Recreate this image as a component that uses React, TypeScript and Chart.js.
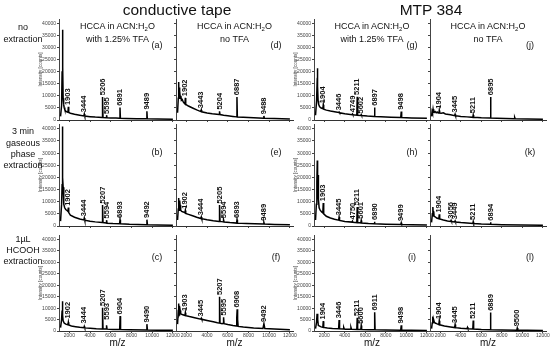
import React, { useEffect, useRef } from "react";
import { Chart, registerables } from "chart.js";
Chart.register(...registerables);

const FONT = "'Liberation Sans', Arial, Helvetica, sans-serif";

const xTicks = [2000, 4000, 6000, 8000, 10000, 12000];
const yTicks = [0, 5000, 10000, 15000, 20000, 25000, 30000, 35000, 40000];
const xRange = [1000, 12300];
const yRange = [0, 42000];

const sectionTitles = ["conductive tape", "MTP 384"];
const rowTitles = [["no", "extraction"], ["3 min", "gaseous", "phase", "extraction"], ["1µL", "HCOOH", "extraction"]];
const colHeaders = [["with 1.25% TFA"], ["no TFA"], ["with 1.25% TFA"], ["no TFA"]];

// [m/z, intensity]
const specA = [[1150,1500],[1250,6000],[1300,20000],[1340,37500],[1370,22000],[1400,9000],[1450,6500],[1500,5200],[1560,4300],[1650,3700],[1800,3300],[1865,3200],[1903,5500],[1940,3100],[2100,2800],[2500,2400],[3000,2000],[3400,1700],[3444,2500],[3490,1650],[4000,1400],[4500,1200],[5160,1000],[5206,9600],[5250,1000],[5550,950],[5595,2000],[5640,920],[6000,850],[6500,780],[6850,740],[6891,5200],[6930,730],[7500,650],[8500,560],[9440,500],[9489,3600],[9530,490],[10500,420],[12000,350]];
const specD = [[1150,3000],[1220,9000],[1260,15800],[1290,9000],[1320,13500],[1350,9500],[1380,12000],[1420,9000],[1470,10000],[1520,8200],[1600,8500],[1700,7500],[1800,7000],[1865,6700],[1902,9200],[1940,6500],[2200,5800],[2600,5000],[3000,4200],[3400,3500],[3443,4200],[3480,3400],[4000,2900],[4500,2600],[5160,2300],[5204,3600],[5250,2250],[5600,2000],[6000,1800],[6500,1500],[6850,1300],[6887,9600],[6925,1250],[7500,1100],[8500,900],[9440,750],[9488,1700],[9530,740],[10500,600],[12000,450]];
const specG = [[1150,2000],[1250,8000],[1300,15000],[1330,21500],[1360,14000],[1400,8000],[1450,6500],[1550,5500],[1700,5000],[1860,4700],[1904,6300],[1945,4500],[2200,4100],[2600,3700],[3000,3400],[3400,3100],[3446,3300],[3490,3000],[4000,2600],[4700,2200],[4749,2500],[4790,2150],[5170,2000],[5211,9700],[5250,2000],[5560,1900],[5602,2200],[5640,1850],[6200,1650],[6860,1500],[6897,5200],[6935,1480],[7500,1350],[8500,1150],[9450,1000],[9498,3500],[9540,990],[10500,850],[12000,700]];
const specJ = [[1150,1500],[1200,3500],[1250,2800],[1300,4500],[1340,3000],[1380,3800],[1420,3200],[1500,3500],[1600,3000],[1700,3300],[1800,2900],[1870,3000],[1904,4000],[1940,2900],[2100,2800],[2300,3000],[2500,2500],[3000,2200],[3400,1800],[3445,2400],[3490,1800],[4000,1500],[4600,1300],[5170,1100],[5211,2100],[5250,1100],[6000,900],[6850,800],[6895,9600],[6940,800],[7500,700],[9200,550],[9250,1100],[9300,550],[10500,450],[12000,350]];
const specB = [[1150,2000],[1250,9000],[1300,17000],[1330,41000],[1360,20000],[1400,16000],[1440,15500],[1480,9000],[1550,7500],[1650,6800],[1800,6300],[1865,6000],[1902,7600],[1940,5500],[2100,4500],[2500,3600],[3000,2900],[3400,2500],[3444,3300],[3490,2400],[4000,2000],[4500,1700],[5160,1400],[5207,8600],[5250,1400],[5550,1200],[5594,2400],[5640,1150],[6200,1000],[6850,900],[6893,2600],[6935,880],[7800,700],[9440,550],[9492,2600],[9540,540],[10500,450],[12000,350]];
const specE = [[1150,2500],[1220,7000],[1260,11500],[1290,6500],[1320,10500],[1360,7000],[1400,8500],[1450,6500],[1550,6000],[1700,5800],[1860,5400],[1902,6400],[1940,5200],[2200,4800],[2600,4200],[3000,3600],[3400,3100],[3444,3700],[3490,3000],[4000,2600],[4600,2200],[5160,1900],[5205,8600],[5250,1900],[5550,1700],[5594,2500],[5640,1650],[6200,1400],[6850,1200],[6893,2600],[6935,1180],[7800,1000],[9440,800],[9489,1500],[9540,780],[10500,650],[12000,500]];
const specH = [[1150,2500],[1230,9000],[1280,18000],[1320,27000],[1350,16000],[1390,21000],[1430,11000],[1500,7500],[1600,6500],[1750,5800],[1860,5400],[1903,9500],[1945,5000],[2200,4000],[2600,3300],[3000,2800],[3400,2400],[3445,3700],[3490,2300],[4000,1900],[4700,1600],[4750,2000],[4800,1550],[5170,1400],[5211,7800],[5250,1400],[5560,1300],[5601,2300],[5640,1250],[6300,1050],[6850,950],[6890,1800],[6930,930],[8000,750],[9450,600],[9499,1300],[9540,590],[10500,500],[12000,400]];
const specK = [[1150,1500],[1230,5000],[1280,7800],[1320,4200],[1360,6000],[1400,4000],[1500,3800],[1650,3300],[1860,3000],[1904,4800],[1945,2900],[2300,2500],[2700,2100],[3010,1900],[3056,2300],[3100,1850],[3400,1700],[3449,2100],[3490,1650],[4000,1400],[4600,1200],[5170,1000],[5211,1800],[5250,1000],[6000,800],[6850,700],[6894,1500],[6940,690],[8000,550],[10000,400],[12000,300]];
const specC = [[1150,1500],[1250,5000],[1300,9000],[1330,13000],[1360,7000],[1400,4500],[1500,3500],[1650,3000],[1860,2700],[1902,3800],[1940,2600],[2200,2200],[2600,1900],[3000,1600],[3400,1400],[3444,2000],[3490,1350],[4000,1200],[4600,1000],[5160,900],[5207,10200],[5250,900],[5550,850],[5593,2500],[5640,820],[6200,700],[6860,650],[6904,6500],[6945,640],[7800,550],[9440,450],[9490,3000],[9540,440],[10500,380],[12000,300]];
const specF = [[1150,3000],[1220,9000],[1260,12000],[1290,7000],[1320,11000],[1360,8000],[1400,9000],[1450,7500],[1600,7200],[1800,6900],[1865,6800],[1903,8000],[1940,6700],[2300,6300],[2800,5800],[3400,5200],[3445,5600],[3490,5100],[4000,4600],[4600,4000],[5000,3600],[5160,3500],[5207,15000],[5250,3400],[5450,3200],[5550,3400],[5595,6000],[5640,3200],[6000,2800],[6500,2400],[6820,2200],[6870,6000],[6908,9500],[6950,5000],[7000,2000],[7500,1700],[8500,1300],[9400,1100],[9492,3200],[9580,1050],[10500,850],[12000,600]];
const specI = [[1150,1000],[1250,4000],[1300,7500],[1340,3500],[1380,5000],[1420,2500],[1500,2200],[1700,1800],[1860,1600],[1904,4300],[1945,1550],[2300,1300],[2800,1100],[3400,1000],[3446,4800],[3490,950],[3850,900],[3900,1500],[3950,880],[4000,850],[4550,750],[4600,1500],[4650,730],[5170,700],[5211,5800],[5250,700],[5560,650],[5600,2400],[5640,640],[6300,550],[6870,500],[6911,8200],[6950,500],[8000,420],[9450,380],[9498,2500],[9540,370],[10500,320],[12000,250]];
const specL = [[1150,1000],[1220,3500],[1270,6300],[1310,3800],[1360,4800],[1420,3800],[1500,3500],[1700,3100],[1860,2800],[1904,4500],[1945,2700],[2400,2200],[3000,1800],[3400,1500],[3445,2800],[3490,1450],[4000,1200],[4600,1000],[4650,1600],[4700,980],[5170,850],[5211,4600],[5250,850],[6000,650],[6850,560],[6889,8100],[6930,550],[8000,450],[9450,380],[9500,1300],[9550,370],[10500,320],[12000,250]];

// [m/z, label, intensity at label foot]
const labA = [[1903,"1903",5800],[3444,"3444",2800],[5206,"5206",9900],[5595,"5595",2100],[6891,"6891",5500],[9489,"9489",3900]];
const labD = [[1902,"1902",9500],[3443,"3443",4500],[5204,"5204",3900],[6887,"6887",9900],[9488,"9488",2000]];
const labG = [[1904,"1904",6600],[3446,"3446",3600],[4749,"4749",2800],[5211,"5211",10000],[5602,"5602",2300],[6897,"6897",5500],[9498,"9498",3800]];
const labJ = [[1904,"1904",4300],[3445,"3445",2700],[5211,"5211",2400],[6895,"6895",9900]];
const labB = [[1902,"1902",7900],[3444,"3444",3600],[5207,"5207",8900],[5594,"5594",2700],[6893,"6893",2900],[9492,"9492",2900]];
const labE = [[1902,"1902",6700],[3444,"3444",4000],[5205,"5205",8900],[5594,"5594",2800],[6893,"6893",2900],[9489,"9489",1800]];
const labH = [[1903,"1903",9800],[3445,"3445",4000],[4750,"4750",2300],[5211,"5211",8100],[5601,"5601",2600],[6890,"6890",2100],[9499,"9499",1600]];
const labK = [[1904,"1904",5100],[3056,"3056",2600],[3449,"3449",2400],[5211,"5211",2100],[6894,"6894",1800]];
const labC = [[1902,"1902",5000],[3444,"3444",2800],[5207,"5207",10500],[5593,"5593",4500],[6904,"6904",6800],[9490,"9490",3300]];
const labF = [[1903,"1903",8300],[3445,"3445",5900],[5207,"5207",15300],[5595,"5595",6300],[6908,"6908",9800],[9492,"9492",3500]];
const labI = [[1904,"1904",4600],[3446,"3446",5100],[5211,"5211",6100],[5600,"5600",2700],[6911,"6911",8500],[9498,"9498",2800]];
const labL = [[1904,"1904",4800],[3445,"3445",3100],[5211,"5211",4900],[6889,"6889",8400],[9500,"9500",1600]];

const panelIds = ["a", "b", "c", "d", "e", "f", "g", "h", "i", "j", "k", "l"];
const panelSpectra = [specA, specB, specC, specD, specE, specF, specG, specH, specI, specJ, specK, specL];
const panelLabels = [labA, labB, labC, labD, labE, labF, labG, labH, labI, labJ, labK, labL];

// layout (pixels)
const COLS = [{ l: 59, r: 176 }, { l: 176, r: 293 }, { l: 314, r: 430 }, { l: 430, r: 546 }];
const ROWS = [{ t: 19, b: 120 }, { t: 124, b: 226 }, { t: 235, b: 331 }];
const LETTER_X = [157, 276, 412, 530];
const LETTER_Y = [45, 152, 257];
const PADL = 24, PADR = 7, PADT = 6;

function Panel({ idx }: { idx: number }) {
  const ref = useRef<HTMLCanvasElement>(null);
  const colI = Math.floor(idx / 3);
  const rowI = idx % 3;
  const col = COLS[colI];
  const row = ROWS[rowI];
  const isBottom = rowI === 2;
  const showY = colI === 0 || colI === 2;
  const padB = isBottom ? 349 - row.b : 4;
  const w = col.r - col.l + PADL + PADR;
  const h = row.b - row.t + PADT + padB;
  useEffect(() => {
    const labels = panelLabels[idx];
    const labelPlugin = {
      id: "peakLabels",
      afterDatasetsDraw(chart: any) {
        const { ctx } = chart;
        const xs = chart.scales.x, ys = chart.scales.y;
        ctx.save();
        ctx.font = `bold 7.5px ${FONT}`;
        ctx.fillStyle = "#111";
        ctx.textAlign = "left";
        ctx.textBaseline = "middle";
        for (const [mz, t, v] of labels as any[]) {
          const x = xs.getPixelForValue(mz);
          const y = ys.getPixelForValue(v) - 1;
          ctx.save();
          ctx.translate(x, y);
          ctx.rotate(-Math.PI / 2);
          ctx.fillText(t, 0, 0);
          ctx.restore();
        }
        ctx.restore();
      },
    };
    const chart = new Chart(ref.current as HTMLCanvasElement, {
      type: "line",
      data: {
        datasets: [{
          data: panelSpectra[idx].map(([x, y]) => ({ x, y })),
          borderColor: "#000",
          borderWidth: 1.5,
          pointRadius: 0,
          tension: 0,
          fill: false,
        }],
      },
      options: {
        responsive: false,
        animation: false,
        events: [],
        layout: { padding: { top: PADT, right: PADR, left: 0, bottom: 0 } },
        plugins: { legend: { display: false }, tooltip: { enabled: false } },
        scales: {
          x: {
            type: "linear",
            min: xRange[0],
            max: xRange[1],
            afterFit: (s: any) => { s.height = padB; },
            afterBuildTicks: (s: any) => { s.ticks = xTicks.map((v) => ({ value: v })); },
            ticks: { display: isBottom, font: { size: 5, family: FONT }, color: "#444", padding: 0, maxRotation: 0, autoSkip: false, callback: (v: any) => String(v) },
            grid: { drawOnChartArea: false, tickLength: 2, color: "#444" },
            border: { color: "#333", width: 1 },
            title: { display: isBottom, text: "m/z", font: { size: 10, family: FONT }, color: "#111", padding: 0 },
          },
          y: {
            type: "linear",
            min: yRange[0],
            max: yRange[1],
            afterFit: (s: any) => { s.width = PADL; },
            afterBuildTicks: (s: any) => { s.ticks = yTicks.map((v) => ({ value: v })); },
            ticks: { display: showY, font: { size: 5, family: FONT }, color: "#444", padding: 1, callback: (v: any) => String(v) },
            grid: { drawOnChartArea: false, tickLength: 2, color: "#444" },
            border: { color: "#444", width: 1 },
            title: { display: showY, text: "Intensity [counts]", font: { size: 4.5, family: FONT }, color: "#444", padding: { top: 3, bottom: 0 } },
          },
        },
      } as any,
      plugins: [labelPlugin],
    });
    return () => chart.destroy();
  }, []);
  return (
    <canvas
      ref={ref}
      width={w}
      height={h}
      style={{ position: "absolute", left: col.l - PADL, top: row.t - PADT, width: w, height: h }}
    />
  );
}

function Txt({ cx, cy, size, lh, children }: any) {
  return (
    <div style={{ position: "absolute", left: cx - 100, top: cy - lh / 2, width: 200, textAlign: "center", fontSize: size, lineHeight: lh + "px", whiteSpace: "nowrap", color: "#111", fontFamily: FONT }}>
      {children}
    </div>
  );
}

export default function App() {
  const headerCx = COLS.map((c) => (c.l + c.r) / 2);
  const rowCy = [[27, 39], [131, 143, 154, 165], [239, 250, 261]];
  return (
    <div style={{ position: "absolute", left: 0, top: 0, width: 550, height: 349, overflow: "hidden", background: "#fff", fontFamily: FONT }}>
      {panelIds.map((id, i) => <Panel key={id} idx={i} />)}
      <Txt cx={177} cy={10} size={15.5} lh={18}>{sectionTitles[0]}</Txt>
      <Txt cx={431} cy={10} size={15.5} lh={18}>{sectionTitles[1]}</Txt>
      {rowTitles.map((lines, r) => lines.map((t, k) => (
        <Txt key={r + "-" + k} cx={23} cy={rowCy[r][k]} size={9} lh={11}>{t}</Txt>
      )))}
      {colHeaders.map((hdr, c) => (
        <React.Fragment key={"h" + c}>
          <Txt cx={headerCx[c]} cy={26} size={9} lh={12}>HCCA in ACN:H<sub style={{ fontSize: 6, verticalAlign: "-2px", lineHeight: 0 }}>2</sub>O</Txt>
          <Txt cx={headerCx[c]} cy={39} size={9} lh={12}>{hdr[0]}</Txt>
        </React.Fragment>
      ))}
      {panelIds.map((id, i) => (
        <Txt key={"l" + id} cx={LETTER_X[Math.floor(i / 3)]} cy={LETTER_Y[i % 3]} size={9} lh={11}>({id})</Txt>
      ))}
    </div>
  );
}
